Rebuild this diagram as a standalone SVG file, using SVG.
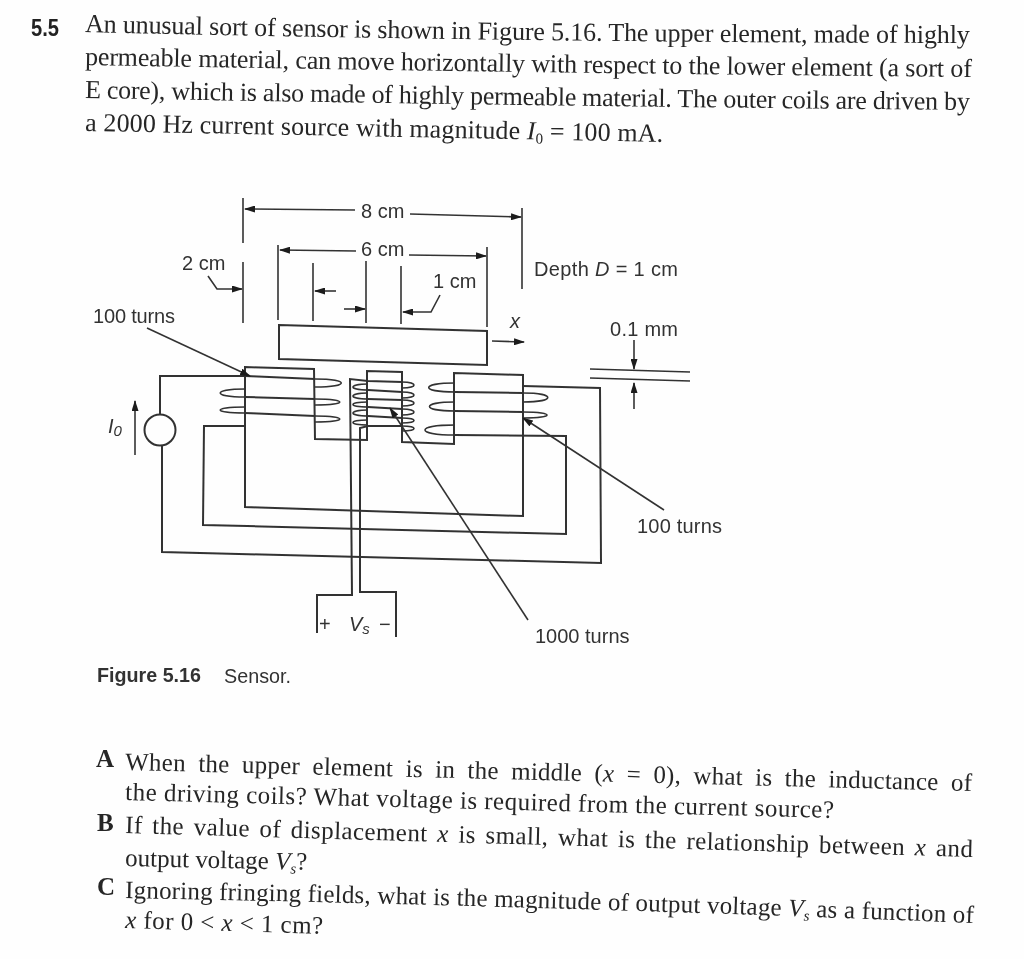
<svg xmlns="http://www.w3.org/2000/svg" xmlns:xlink="http://www.w3.org/1999/xlink" width="1024" height="959" viewBox="0 0 1024 959">
<style>
.bg{fill:#fefefe}
.l{fill:none;stroke:#333;stroke-width:2;stroke-linejoin:miter}
.t{stroke-width:1.6}
.a{marker-end:url(#arrow)}
.body{font-family:"Liberation Serif","Times New Roman",serif;font-size:26px;fill:#262626}
.q{font-family:"Liberation Serif","Times New Roman",serif;font-size:25px;fill:#262626}
.b{font-weight:bold}
.s{font-family:"Liberation Sans",Arial,sans-serif;font-size:20px;fill:#333}
.i{font-style:italic}
.sub{font-size:15px}
</style>
<defs>
<marker id="arrow" markerUnits="userSpaceOnUse" markerWidth="11" markerHeight="7" refX="10" refY="3.5" orient="auto"><path d="M0 0L11 3.5L0 7Z" fill="#1c1c1c"/></marker>
<filter id="soft" x="0" y="0" width="100%" height="100%"><feGaussianBlur stdDeviation="0.4"/></filter>
<path id="p1" d="M85 32Q520 42.5 972 43"/>
<path id="p2" d="M85 65Q520 73 974 77"/>
<path id="p3" d="M85 98Q520 106 972 110"/>
<path id="p4" d="M85 131L670 142"/>
<path id="pa" d="M125 770Q550 780 973 791"/>
<path id="pb" d="M125 833L973 857"/>
<path id="pc" d="M125 898Q550 906 974 923"/>
</defs>
<rect class="bg" width="1024" height="959"/>
<g filter="url(#soft)">
<g id="problem-text">
<text class="b" x="31" y="36" font-family="Liberation Sans,Arial,sans-serif" font-size="23" fill="#222" textLength="28" lengthAdjust="spacingAndGlyphs">5.5</text>
<text class="body"><textPath href="#p1" textLength="885">An unusual sort of sensor is shown in Figure 5.16. The upper element, made of highly</textPath></text>
<text class="body"><textPath href="#p2" textLength="887">permeable material, can move horizontally with respect to the lower element (a sort of</textPath></text>
<text class="body"><textPath href="#p3" textLength="885">E core), which is also made of highly permeable material. The outer coils are driven by</textPath></text>
<text class="body"><textPath href="#p4" textLength="578">a 2000 Hz current source with magnitude <tspan class="i">I</tspan><tspan class="sub" dy="4">0</tspan><tspan dy="-4"> = 100 mA.</tspan></textPath></text>
</g>
<g id="upper-element"><path class="l" d="M279 325L487 331V365L279 359Z"/></g>
<g id="lower-core"><path class="l" d="M245 367V507L523 516V375L454 373V444L402 442V372L367 371V440L315 439L314 369Z"/></g>
<g id="coil-left">
<path class="l t" d="M315 379C350 379 350 387 315 387M245 389C212 389 212 397 245 397M315 399C348 399 348 405 315 405M245 407C212 407 212 413 245 413M315 416C348 416 348 422 315 422"/>
<path class="l" d="M245 397L315 399M245 413L315 416"/>
</g>
<g id="coil-centre">
<path class="l t" d="M402 382C418 382 418 388 402 388M368 384C348 384 348 390 368 390M402 392C418 392 418 398 402 398M368 393C348 393 348 399 368 399M402 400C418 400 418 406 402 406M368 402C348 402 348 407 368 407M402 409C418 409 418 415 402 415M368 410C348 410 348 416 368 416M402 418C418 418 418 423 402 423M368 420C348 420 348 425 368 425M402 426C418 426 418 431 402 431"/>
<path class="l" d="M368 390L402 392M368 399L402 400M368 407L402 409M368 416L402 418"/>
</g>
<g id="coil-right">
<path class="l t" d="M455 383C420 383 420 392 455 392M523 393C556 393 556 402 523 402M455 402C421 402 421 411 455 411M523 412C555 412 555 418 523 418M455 425C415 425 415 435 455 435"/>
<path class="l" d="M455 392L523 393M455 411L523 412"/>
</g>
<g id="source"><circle class="l" cx="160" cy="430" r="15.5"/></g>
<g id="connectors">
<path class="l" d="M160 414V376H245L315 379"/>
<path class="l" d="M245 426H204L203 525L566 534V436L455 435"/>
<path class="l" d="M523 386L600 388L601 563L162 552V446"/>
<path class="l" d="M317 633V595H352L350 379L368 381L402 382"/>
<path class="l" d="M396 637V592H360V428L368 426L402 426"/>
<path class="l t a" d="M135 455V401"/>
</g>
<g id="dimensions">
<path class="l t" d="M243 198V243M243 262V323M522 208V289M278 245V320M487 247V327M313 263V321M366 261V323M401 266V324"/>
<path class="l t a" d="M355 210L245 209"/>
<path class="l t a" d="M410 214L521 217"/>
<path class="l t a" d="M356 251L280 250"/>
<path class="l t a" d="M409 255L486 256"/>
<path class="l t a" d="M336 291L315 291"/>
<path class="l t a" d="M344 309L365 309"/>
<path class="l t a" d="M440 295L431 312L403 312"/>
<path class="l t a" d="M208 276L217 289L242 289"/>
<path class="l t a" d="M492 341L524 342"/>
<path class="l t" d="M590 369L690 372M590 378L690 381"/>
<path class="l t a" d="M634 340V369"/>
<path class="l t a" d="M634 409V383"/>
<path class="l t a" d="M147 328L250 376"/>
<path class="l t a" d="M664 510L523 418"/>
<path class="l t a" d="M528 620L390 408"/>
</g>
<g id="labels">
<text class="s" x="361" y="218">8 cm</text>
<text class="s" x="361" y="256">6 cm</text>
<text class="s" x="182" y="270">2 cm</text>
<text class="s" x="433" y="288">1 cm</text>
<text class="s" x="93" y="323" textLength="82">100 turns</text>
<text class="s" x="534" y="276" textLength="144">Depth <tspan class="i">D</tspan> = 1 cm</text>
<text class="s i" x="510" y="328">x</text>
<text class="s" x="610" y="336" textLength="68">0.1 mm</text>
<text class="s" x="637" y="533" textLength="85">100 turns</text>
<text class="s" x="535" y="643">1000 turns</text>
<text class="s" x="319" y="631">+</text>
<text class="s i" x="349" y="631">V<tspan class="sub" dy="3">s</tspan></text>
<text class="s" x="379" y="631">−</text>
<text class="s i" x="108" y="433">I<tspan class="sub" dy="3">0</tspan></text>
<text class="s b" x="97" y="682" font-size="19" textLength="104" lengthAdjust="spacingAndGlyphs">Figure 5.16</text>
<text class="s" x="224" y="683" font-size="19" textLength="67" lengthAdjust="spacingAndGlyphs">Sensor.</text>
</g>
<g id="questions">
<text class="q b" x="96" y="767">A</text>
<text class="q"><textPath href="#pa" textLength="847" word-spacing="6">When the upper element is in the middle (<tspan class="i">x</tspan> = 0), what is the inductance of</textPath></text>
<text class="q" x="125" y="800" transform="rotate(1.45 125 800)" textLength="709">the driving coils? What voltage is required from the current source?</text>
<text class="q b" x="97" y="831">B</text>
<text class="q"><textPath href="#pb" textLength="848" word-spacing="3">If the value of displacement <tspan class="i">x</tspan> is small, what is the relationship between <tspan class="i">x</tspan> and</textPath></text>
<text class="q" x="125" y="866" transform="rotate(1.2 125 866)">output voltage <tspan class="i">V</tspan><tspan class="sub i" dy="4">s</tspan><tspan dy="-4">?</tspan></text>
<text class="q b" x="97" y="895">C</text>
<text class="q"><textPath href="#pc" textLength="849">Ignoring fringing fields, what is the magnitude of output voltage <tspan class="i">V</tspan><tspan class="sub i" dy="4">s</tspan><tspan dy="-4"> as a function of</tspan></textPath></text>
<text class="q" x="125" y="928" transform="rotate(1.7 125 928)" textLength="198"><tspan class="i">x</tspan> for 0 &lt; <tspan class="i">x</tspan> &lt; 1 cm?</text>
</g>
</g>
</svg>
